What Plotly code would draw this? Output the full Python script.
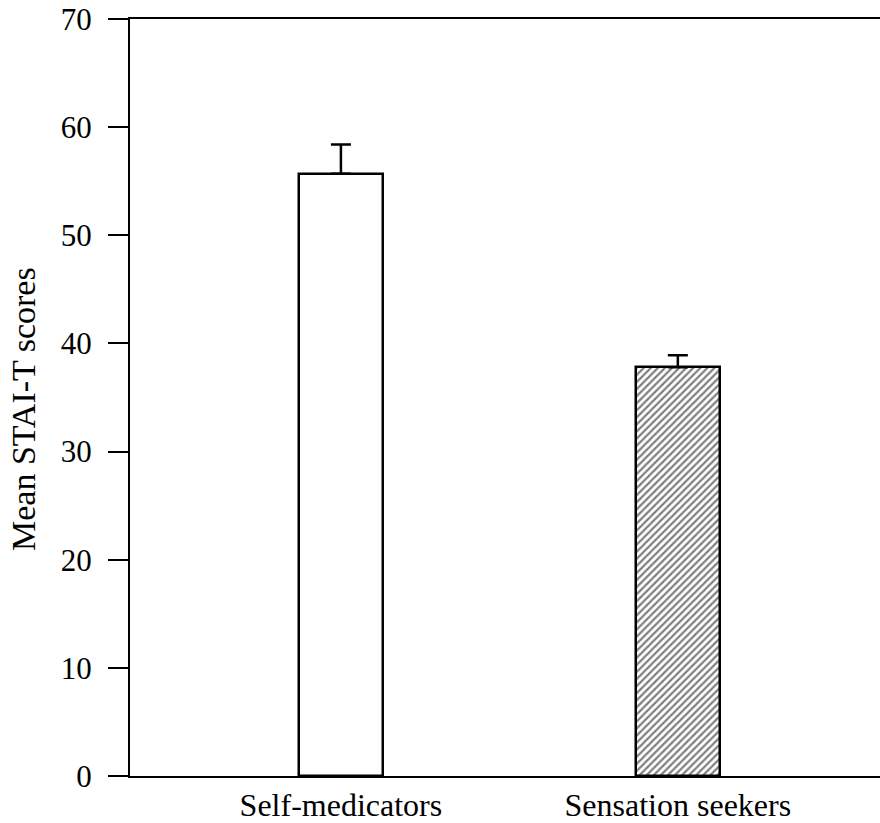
import plotly.graph_objects as go

# Mean trait anxiety (STAI-T) by group, with upper error bars
groups = ["Self-medicators", "Sensation seekers"]
means = [55.7, 37.8]
errors = [2.7, 1.1]
y_ticks = [0, 10, 20, 30, 40, 50, 60, 70]

FONT = "Liberation Serif, Times New Roman, serif"
xpos = list(range(len(groups)))

fig = go.Figure()
fig.add_trace(go.Bar(
    x=xpos,
    y=means,
    width=0.25,
    marker=dict(
        color="white",
        line=dict(color="black", width=2.5),
        pattern=dict(
            shape=["", "/"],
            fgcolor="black",
            bgcolor="white",
            size=5,
            solidity=0.45,
        ),
    ),
    error_y=dict(
        type="data",
        symmetric=False,
        array=errors,
        arrayminus=[0] * len(errors),
        color="black",
        thickness=2.5,
        width=10,
    ),
    showlegend=False,
))

fig.update_layout(
    width=880,
    height=823,
    margin=dict(l=130, r=0, t=19, b=47),
    paper_bgcolor="white",
    plot_bgcolor="white",
    font=dict(family=FONT, color="black"),
    bargap=0,
    xaxis=dict(
        range=[-0.626, 1.6],
        tickvals=xpos,
        ticktext=groups,
        ticks="",
        showgrid=False,
        zeroline=False,
        showline=True,
        linecolor="black",
        linewidth=2,
        mirror=True,
        automargin=False,
        tickfont=dict(family=FONT, size=32, color="black"),
        ticklabelstandoff=0,
    ),
    yaxis=dict(
        range=[0, 70],
        tickvals=y_ticks,
        ticks="outside",
        ticklen=20,
        tickwidth=2,
        tickcolor="black",
        showgrid=False,
        zeroline=False,
        showline=True,
        linecolor="black",
        linewidth=2,
        automargin=False,
        tickfont=dict(family=FONT, size=31, color="black"),
        ticklabelstandoff=10,
    ),
    annotations=[
        dict(
            text="Mean STAI-T scores",
            xref="paper", yref="paper",
            x=(23 - 130) / 750, y=(776 - 409) / 757,
            xanchor="center", yanchor="middle",
            textangle=-90,
            showarrow=False,
            font=dict(family=FONT, size=34, color="black"),
        )
    ],
)

fig.write_html("out.html")
